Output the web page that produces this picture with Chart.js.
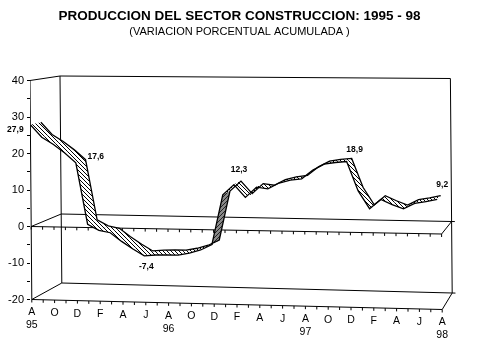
<!DOCTYPE html>
<html lang="es">
<head>
  <meta charset="UTF-8" />
  <title>Produccion del sector construccion</title>
  <script src="https://cdn.jsdelivr.net/npm/chart.js"></script>
  <style>
    html, body { margin: 0; padding: 0; background: #fff; }
    canvas { display: block; }
  </style>
</head>
<body>
  <canvas id="chart" width="479" height="359"></canvas>

  <script>
    // datos: Ago 95 .. Ago 98
    const values = [27.9, 24.5, 22.6, 20.3, 17.6, 0.9, -0.7, -1.3, -3.6, -5.6, -7.4, -7.1, -7.0,
                    -7.0, -6.4, -5.5, -4.0, 9.5, 12.3, 8.9, 11.7, 11.3, 12.9, 13.7, 14.1,
                    16.5, 18.1, 18.6, 18.9, 11.1, 6.4, 8.9, 7.6, 6.5, 8.0, 8.5, 9.2];
    const monthLabels = ['A', 'O', 'D', 'F', 'A', 'J', 'A', 'O', 'D', 'F', 'A', 'J', 'A', 'O', 'D', 'F', 'A', 'J', 'A'];
    const yearLabels = ['95', '96', '97', '98'];
    const yTicks = [-20, -15, -10, -5, 0, 5, 10, 15, 20, 25, 30, 35, 40];
    const labelledMonths = [0, 4, 10, 18, 28, 36];

    const lastMonth = values.length - 1;
    const pxPerMonth = 11.4;
    const pxPerUnit = 3.65;
    const ribbonDepth = 0.35;
    const ribbonSpread = 0.99;

    // caja 3D: mes, valor y profundidad (0 delante, 1 fondo) -> unidades de las escalas
    function project(m, v, d) {
      const lean = (40 - v) * 0.03;
      const depthX = d * (30 - 20 * m / 36);
      const tilt = (m / 36) * (7.5 - 0.125 * v);
      const depthY = d * (12.5 - 0.2 * v);
      return {
        x: m + (lean + depthX) / pxPerMonth,
        y: v + (depthY - tilt) / pxPerUnit
      };
    }

    function ribbonPoint(i, d) {
      const p = project(i, values[i], d);
      return { x: p.x - i * (1 - ribbonSpread), y: p.y };
    }

    function hatch(base, ink, flip) {
      const c = document.createElement('canvas');
      c.width = c.height = 4;
      const g = c.getContext('2d');
      g.fillStyle = base;
      g.fillRect(0, 0, 4, 4);
      g.fillStyle = ink;
      for (let k = 0; k < 4; k++) g.fillRect(flip ? 3 - k : k, k, 1, 1);
      return g.createPattern(c, 'repeat');
    }
    const lightHatch = hatch('#fff', '#000', false);
    const darkHatch = hatch('#8a8a8a', '#222', true);

    const front = values.map((_, i) => ribbonPoint(i, 0));
    const back = values.map((_, i) => ribbonPoint(i, ribbonDepth));

    function line(points, order, width) {
      return { data: points, showLine: true, borderColor: '#000', borderWidth: width, pointRadius: 0, fill: false, order: order };
    }

    const datasets = [line(front, 0, 1.3), line(back, 0, 1.3)];

    // un cuadrilatero por mes
    for (let i = 0; i < lastMonth; i++) {
      datasets.push({
        data: [front[i], front[i + 1], back[i + 1], back[i], front[i]],
        showLine: true,
        borderWidth: 0,
        pointRadius: 0,
        fill: 'shape',
        backgroundColor: values[i + 1] - values[i] > 5 ? darkHatch : lightHatch,
        order: 1
      });
    }

    // marco
    const frame = [
      [0, 40, 0, 0, -20, 0],
      [0, 40, 1, 0, -20, 1],
      [36, 40, 1, 36, -20, 1],
      [0, 40, 0, 0, 40, 1],
      [0, 0, 0, 0, 0, 1],
      [0, -20, 0, 0, -20, 1],
      [36, 0, 0, 36, 0, 1],
      [36, -20, 0, 36, -20, 1],
      [0, 40, 1, 36, 40, 1],
      [0, 0, 1, 36.3, 0, 1],
      [0, -20, 1, 36.3, -20, 1],
      [0, 0, 0, 36, 0, 0],
      [0, -20, 0, 36, -20, 0]
    ];
    frame.forEach(f => {
      datasets.push(line([project(f[0], f[1], f[2]), project(f[3], f[4], f[5])], 2, 1));
    });

    // marcas de los ejes delanteros
    [0, -20].forEach(v => {
      const marks = values.map((_, i) => {
        const p = project(i, v, 0);
        return { x: p.x, y: p.y - 1.5 / pxPerUnit };
      });
      datasets.push({
        data: marks, showLine: false, pointStyle: 'line', pointRotation: 90,
        pointRadius: 1.5, borderColor: '#000', borderWidth: 1, order: 2
      });
    });

    const labelOffsets = [[-15, 5], [20, -6], [2, 11], [5, -15], [8, -12], [5, -15]];

    const textPlugin = {
      id: 'textPlugin',
      afterDatasetsDraw(chart) {
        const { ctx, scales } = chart;
        const at = p => [scales.x.getPixelForValue(p.x), scales.y.getPixelForValue(p.y)];
        ctx.save();
        ctx.fillStyle = '#000';
        ctx.textAlign = 'center';
        ctx.textBaseline = 'middle';

        ctx.font = '10.5px "Liberation Sans"';
        monthLabels.forEach((t, i) => {
          const [x, y] = at(project(i * 2, -20, 0));
          ctx.fillText(t, x, y + 13);
        });
        yearLabels.forEach((t, i) => {
          const [x, y] = at(project(i * 12, -20, 0));
          ctx.fillText(t, x, y + 26);
        });

        ctx.font = 'bold 8.5px "Liberation Sans"';
        labelledMonths.forEach((m, i) => {
          const [x, y] = at(front[m]);
          ctx.fillText(values[m].toFixed(1).replace('.', ','), x + labelOffsets[i][0], y + labelOffsets[i][1]);
        });
        ctx.restore();
      }
    };

    new Chart(document.getElementById('chart'), {
      type: 'scatter',
      data: { datasets: datasets },
      plugins: [textPlugin],
      options: {
        responsive: false,
        animation: false,
        events: [],
        layout: { padding: 0, autoPadding: false },
        elements: { line: { tension: 0 } },
        plugins: {
          legend: { display: false },
          tooltip: { enabled: false },
          title: {
            display: true,
            text: 'PRODUCCION DEL SECTOR CONSTRUCCION: 1995 - 98',
            color: '#000',
            font: { family: 'Liberation Sans', size: 13.5, weight: 'bold' },
            padding: { top: 8, bottom: 0 }
          },
          subtitle: {
            display: true,
            text: '(VARIACION PORCENTUAL ACUMULADA )',
            color: '#000',
            font: { family: 'Liberation Sans', size: 11 },
            padding: { top: 0.8, bottom: 1.8 }
          }
        },
        scales: {
          x: { type: 'linear', display: false, min: 0, max: 449 / pxPerMonth },
          y: {
            type: 'linear',
            min: (226.5 - 359) / pxPerUnit,
            max: (226.5 - 40) / pxPerUnit,
            afterFit(axis) {
              axis.width = 30;
              axis.paddingTop = 0;
              axis.paddingBottom = 0;
            },
            afterBuildTicks(axis) { axis.ticks = yTicks.map(v => ({ value: v })); },
            border: { display: false },
            grid: { drawOnChartArea: false, tickLength: 3, color: '#000' },
            ticks: {
              color: '#000',
              padding: 3,
              autoSkip: false,
              font: { family: 'Liberation Sans', size: 11 },
              callback: v => (v % 10 === 0 ? String(v) : '')
            }
          }
        }
      }
    });
  </script>
</body>
</html>
